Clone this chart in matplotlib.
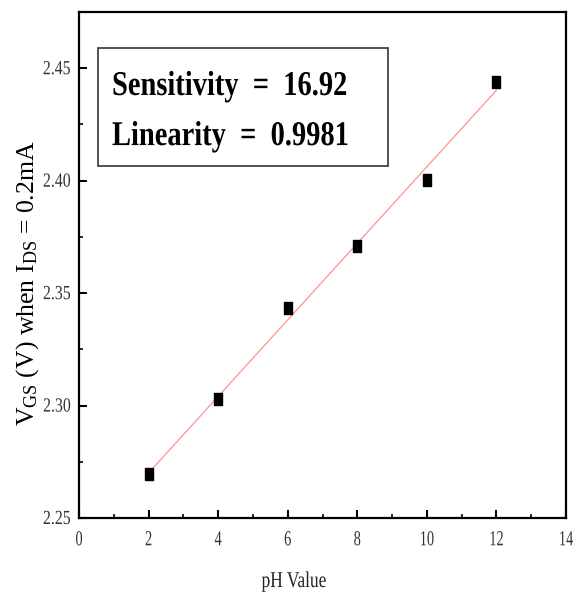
import numpy as np
import matplotlib
matplotlib.use("Agg")
import matplotlib.pyplot as plt
from matplotlib.ticker import MultipleLocator, FormatStrFormatter
from matplotlib.patches import Rectangle
from matplotlib.patheffects import AbstractPathEffect
from matplotlib.transforms import Affine2D
from matplotlib.path import Path

ph = [2, 4, 6, 8, 10, 12]
vgs = [2.2696, 2.3027, 2.3433, 2.3710, 2.4004, 2.4437]
sens_text = "Sensitivity  =  16.92"
lin_text = "Linearity  =  0.9981"

plt.rcParams['font.family'] = ['Liberation Serif', 'DejaVu Serif']
plt.rcParams['mathtext.fontset'] = 'custom'
plt.rcParams['mathtext.rm'] = 'Liberation Serif'
plt.rcParams['mathtext.it'] = 'Liberation Serif'


class Stretch(AbstractPathEffect):
    """Make glyphs taller (narrow-font look); text stays real text."""
    def __init__(self, sx=1.0, sy=1.0, anchor='center'):
        super().__init__()
        self.sx = sx
        self.sy = sy
        self.anchor = anchor

    def draw_path(self, renderer, gc, tpath, affine, rgbFace=None):
        ext = tpath.get_extents()
        cx = {'left': ext.x0, 'center': 0.5 * (ext.x0 + ext.x1), 'right': ext.x1}[self.anchor]
        t = Affine2D().translate(-cx, 0).scale(self.sx, self.sy).translate(cx, 0) + affine
        renderer.draw_path(gc, tpath, t, rgbFace)


fig = plt.figure(figsize=(5.75, 5.97), dpi=100)
ax = fig.add_axes([79/575, 1-518/597, (566-79)/575, (518-12)/597])

coef = np.polyfit(ph, vgs, 1)
xf = np.array([min(ph), max(ph)])
ax.plot(xf, np.polyval(coef, xf), color='#ff9a9a', lw=1.0, zorder=2)
rect = Path([(-0.36, -0.5), (0.36, -0.5), (0.36, 0.5), (-0.36, 0.5), (-0.36, -0.5)],
            [Path.MOVETO, Path.LINETO, Path.LINETO, Path.LINETO, Path.CLOSEPOLY])
ax.plot(ph, vgs, linestyle='none', marker=rect, color='black', ms=8, zorder=3)

ax.set_xlim(0, 14)
ax.set_ylim(2.25, 2.475)
ax.xaxis.set_major_locator(MultipleLocator(2))
ax.xaxis.set_minor_locator(MultipleLocator(1))
ax.yaxis.set_major_locator(MultipleLocator(0.05))
ax.yaxis.set_minor_locator(MultipleLocator(0.025))
ax.yaxis.set_major_formatter(FormatStrFormatter('%.2f'))
ax.tick_params(which='major', direction='in', length=6, width=1.5, labelsize=12, labelcolor='#333333')
ax.tick_params(axis='x', which='major', pad=11)
ax.tick_params(axis='y', which='major', pad=6)
ax.tick_params(which='minor', direction='in', length=3, width=1.2)
for s in ax.spines.values():
    s.set_linewidth(1.6)

ax.set_xlabel('pH Value', fontsize=12.5, color='#222222')
ax.xaxis.label.set_path_effects([Stretch(1.0, 1.3, 'center')])
ax.xaxis.set_label_coords((294-79)/487, (518-575)/506)
ax.set_ylabel(r'V$_{\mathrm{GS}}$ (V) when I$_{\mathrm{DS}}$ = 0.2mA', fontsize=18.5)
ax.yaxis.set_label_coords((41-79)/487, (518-283)/506)

t1 = ax.text(0.0678, 0.836, sens_text, transform=ax.transAxes, fontsize=20.5,
             fontweight='bold', va='baseline', ha='left')
t2 = ax.text(0.0678, 0.737, lin_text, transform=ax.transAxes, fontsize=20.5,
             fontweight='bold', va='baseline', ha='left')
for t in (t1, t2):
    t.set_path_effects([Stretch(1.0, 1.22, 'left')])
ax.add_patch(Rectangle(((98-79)/487, (518-166)/506), (388-98)/487, (166-48)/506,
                       transform=ax.transAxes, fill=False, lw=1.2, ec='#333333', zorder=4))

fig.canvas.draw()
for lab in ax.get_xticklabels():
    lab.set_path_effects([Stretch(0.86, 1.28, 'center')])
for lab in ax.get_yticklabels():
    lab.set_path_effects([Stretch(0.95, 1.2, 'right')])

fig.savefig('out.png', dpi=100)
